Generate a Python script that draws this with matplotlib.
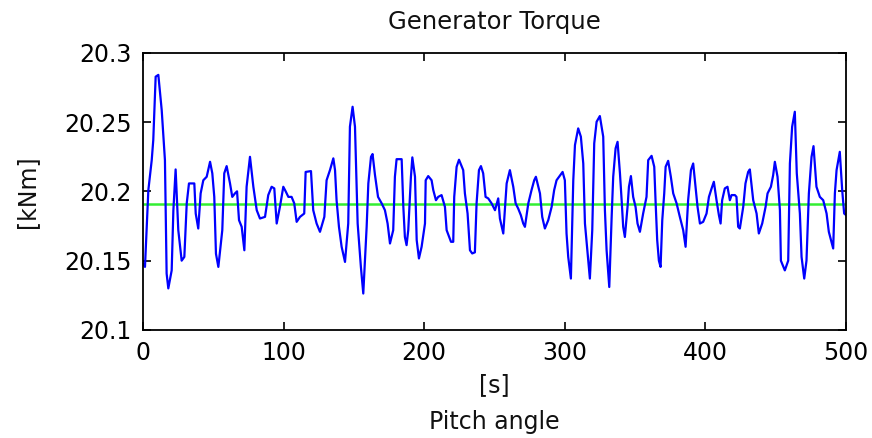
import matplotlib
matplotlib.use("Agg")
import matplotlib.pyplot as plt

# Time [s]
time_s = [0, 1.4, 3.8, 6.2, 7.3, 9.0, 10.9, 13.3, 15.6, 16.8, 18.0, 20.4, 21.6, 23.2, 25.1, 27.5,
          29.4, 31.1, 32.7, 36.5, 37.5, 39.3, 41.0, 42.9, 45.3, 47.7, 49.3, 50.7, 51.9, 53.6,
          56.4, 57.8, 59.5, 61.9, 63.5, 65.4, 66.9, 68.3, 70.2, 72.1, 73.7, 76.1, 78.5, 80.9,
          83.2, 86.8, 89.1, 91.5, 93.4, 95.1, 97.4, 99.8, 101.5, 103.4, 105.7, 107.6, 109.3,
          111.7, 114.7, 115.7, 119.5, 121.1, 123.5, 125.9, 129.0, 130.6, 133.0, 135.4, 136.6,
          137.7, 139.4, 141.3, 143.7, 146.0, 147.2, 149.1, 150.8, 152.7, 155.0, 156.7, 159.1,
          160.3, 162.2, 163.3, 165.0, 167.2, 169.8, 172.1, 174.0, 175.7, 178.0, 179.2, 180.4,
          184.0, 185.2, 186.3, 187.5, 188.7, 190.6, 191.6, 193.5, 194.7, 196.3, 198.2, 200.6,
          201.1, 202.9, 205.3, 206.5, 208.4, 210.0, 212.4, 214.8, 216.0, 219.1, 220.7, 221.4,
          223.1, 224.8, 227.8, 229.0, 230.9, 232.6, 234.2, 236.1, 237.3, 239.0, 240.4, 242.0,
          243.7, 245.6, 248.0, 250.4, 252.7, 253.9, 256.3, 258.7, 261.0, 263.4, 265.1, 266.9,
          268.8, 270.5, 271.7, 274.1, 276.4, 278.3, 279.5, 282.4, 284.0, 285.9, 288.3, 290.7,
          292.5, 294.2, 298.5, 300.1, 301.3, 302.5, 304.4, 306.1, 307.3, 309.6, 311.5, 313.2,
          314.4, 316.3, 317.9, 319.6, 321.0, 322.7, 325.0, 327.4, 328.6, 329.8, 331.7, 333.4,
          334.5, 336.2, 337.6, 339.3, 340.5, 341.6, 342.8, 344.7, 345.7, 347.1, 348.7, 350.4,
          351.8, 353.5, 355.8, 358.2, 359.4, 361.8, 363.7, 364.7, 365.8, 367.0, 368.2, 369.4,
          370.8, 371.8, 373.6, 375.5, 377.2, 379.6, 381.9, 384.3, 386.0, 387.8, 389.8, 391.4,
          393.1, 394.5, 396.2, 398.5, 400.9, 402.6, 404.5, 406.1, 408.0, 409.7, 410.9, 412.0,
          413.9, 415.8, 417.5, 418.7, 421.1, 422.2, 423.4, 424.6, 427.0, 428.6, 430.5, 431.7,
          434.1, 436.5, 438.1, 440.5, 442.9, 444.3, 446.7, 448.3, 449.5, 451.4, 453.1, 453.8,
          456.6, 459.0, 460.2, 461.8, 463.7, 465.1, 467.3, 468.5, 470.4, 472.0, 473.7, 475.6,
          477.0, 479.1, 481.5, 483.9, 486.3, 487.9, 491.0, 492.2, 493.4, 495.7, 497.4, 498.8,
          500.0]

# Generator torque [kNm]
torque = [20.148, 20.1455, 20.2009, 20.2225, 20.237, 20.2827, 20.284, 20.2586, 20.2225, 20.1407,
          20.130, 20.143, 20.1864, 20.2158, 20.172, 20.150, 20.1527, 20.1913, 20.2057, 20.2057,
          20.184, 20.1732, 20.1985, 20.208, 20.2105, 20.2213, 20.213, 20.196, 20.155, 20.1455,
          20.172, 20.213, 20.2182, 20.2057, 20.196, 20.1985, 20.200, 20.1792, 20.1744, 20.1575,
          20.2033, 20.2249, 20.2033, 20.1864, 20.1804, 20.1816, 20.1973, 20.2033, 20.2021,
          20.1768, 20.1888, 20.2033, 20.200, 20.196, 20.196, 20.1913, 20.178, 20.1816, 20.184,
          20.214, 20.2146, 20.1864, 20.1768, 20.1708, 20.1816, 20.208, 20.2153, 20.2238, 20.2153,
          20.1936, 20.1744, 20.160, 20.1491, 20.1768, 20.2466, 20.261, 20.2466, 20.1768, 20.1455,
          20.1263, 20.1744, 20.2057, 20.2249, 20.2269, 20.212, 20.196, 20.1913, 20.1864, 20.1768,
          20.1624, 20.172, 20.2105, 20.2232, 20.2232, 20.1888, 20.1671, 20.1612, 20.172, 20.2105,
          20.2245, 20.2105, 20.1648, 20.1516, 20.160, 20.1768, 20.208, 20.211, 20.208, 20.2009,
          20.1936, 20.196, 20.1973, 20.1888, 20.172, 20.1636, 20.1636, 20.196, 20.2177, 20.2228,
          20.2153, 20.1985, 20.184, 20.1575, 20.1552, 20.156, 20.1913, 20.2153, 20.2182, 20.213,
          20.196, 20.1949, 20.1913, 20.1864, 20.1949, 20.1804, 20.1696, 20.2057, 20.2153, 20.2033,
          20.1913, 20.1876, 20.1828, 20.1768, 20.1744, 20.1913, 20.2009, 20.208, 20.2105, 20.1985,
          20.1816, 20.1732, 20.1792, 20.1888, 20.2009, 20.208, 20.214, 20.208, 20.1696, 20.1527,
          20.1371, 20.208, 20.2334, 20.2454, 20.2394, 20.2201, 20.1768, 20.1552, 20.1371, 20.172,
          20.2346, 20.2502, 20.2543, 20.2394, 20.1864, 20.1575, 20.131, 20.1816, 20.2105, 20.231,
          20.2357, 20.213, 20.1936, 20.1744, 20.1671, 20.1888, 20.2033, 20.211, 20.196, 20.1888,
          20.1768, 20.1708, 20.184, 20.196, 20.2225, 20.2256, 20.2177, 20.1913, 20.1648, 20.150,
          20.1455, 20.1792, 20.1985, 20.2177, 20.222, 20.2105, 20.1985, 20.1913, 20.1816, 20.172,
          20.160, 20.1936, 20.2153, 20.2201, 20.2033, 20.1888, 20.1768, 20.178, 20.184, 20.196,
          20.2021, 20.2069, 20.1936, 20.1828, 20.1768, 20.1936, 20.2021, 20.2033, 20.1936, 20.1973,
          20.1973, 20.196, 20.1744, 20.1732, 20.1888, 20.2057, 20.214, 20.2158, 20.1936, 20.184,
          20.1696, 20.1768, 20.1888, 20.1985, 20.2033, 20.2117, 20.2213, 20.2105, 20.1864, 20.150,
          20.143, 20.150, 20.2201, 20.2466, 20.2574, 20.213, 20.184, 20.1527, 20.1371, 20.150,
          20.1985, 20.2249, 20.2326, 20.2033, 20.196, 20.1936, 20.184, 20.1708, 20.1588, 20.1985,
          20.2153, 20.2285, 20.2009, 20.184, 20.183]

reference_level = 20.191
x_ticks = [0, 100, 200, 300, 400, 500]
y_ticks = [20.1, 20.15, 20.2, 20.25, 20.3]
y_tick_labels = ["20.1", "20.15", "20.2", "20.25", "20.3"]

plt.rcParams['font.family'] = ['DejaVu Sans']

fig = plt.figure(figsize=(8.72, 4.38), dpi=100)
ax = fig.add_axes([0.164, 0.2466, 0.806, 0.6331])

ax.axhline(reference_level, color='#33ee33', lw=1.8, zorder=1)
ax.plot(time_s, torque, color='#0000ff', lw=1.6, zorder=2)

ax.set_xlim(0, 500)
ax.set_ylim(20.1, 20.3)
ax.set_xticks(x_ticks)
ax.set_yticks(y_ticks)
ax.set_yticklabels(y_tick_labels)
ax.tick_params(direction='in', length=6, width=1.2, labelsize=17, colors='black',
               top=True, right=True, pad=8)
for s in ax.spines.values():
    s.set_linewidth(1.3)
    s.set_color('black')

ax.set_title("Generator Torque", fontsize=17.5, pad=17, color='#111111')
ax.set_xlabel("[s]", fontsize=17, labelpad=6, color='#111111')
ax.set_ylabel("[kNm]", fontsize=17, labelpad=18, color='#111111')
fig.text(0.5665, 0.036, "Pitch angle", ha='center', va='center', fontsize=17, color='#111111')

fig.savefig("out.png", dpi=100)
